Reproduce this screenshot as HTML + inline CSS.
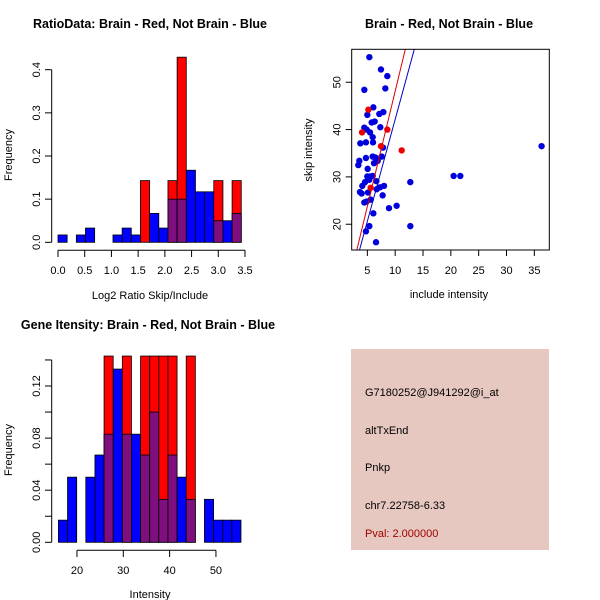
<!DOCTYPE html>
<html><head><meta charset="utf-8"><style>
html,body{margin:0;padding:0;background:#fff}
svg{display:block;font-family:"Liberation Sans",sans-serif}
</style></head><body>
<svg id="s" width="600" height="600" viewBox="0 0 600 600">
<rect width="600" height="600" fill="#fff"/>
</svg>
<script>
// ---- data: ratio histogram ----
const ratioBlue=[0.017,0,0.017,0.033,0,0,0.017,0.033,0.017,0,0.067,0.033,0.1,0.1,0.167,0.117,0.117,0.05,0.05,0.067];
const ratioRed=[0,0,0,0,0,0,0,0,0,0.143,0,0,0.143,0.429,0,0,0,0.143,0,0.143];
const ratioXTicks=[0,0.5,1,1.5,2,2.5,3,3.5];
const ratioXLabels=["0.0","0.5","1.0","1.5","2.0","2.5","3.0","3.5"];
const ratioYTicks=[0,0.1,0.2,0.3,0.4];
const ratioYLabels=["0.0","0.1","0.2","0.3","0.4"];
// ---- data: intensity histogram ----
const intBlue=[0.017,0.05,0,0.05,0.067,0.083,0.133,0.083,0.083,0.067,0.1,0.033,0.067,0.05,0.033,0,0.033,0.017,0.017,0.017];
const intRed=[0,0,0,0,0,0.143,0,0.143,0,0.143,0.143,0.143,0.143,0,0.143,0,0,0,0,0];
const intXTicks=[20,30,40,50];
const intYTicks=[0,0.02,0.04,0.06,0.08,0.10,0.12,0.14];
const intYLabels=["0.00","","0.04","","0.08","","0.12",""];
// ---- data: scatter ----
const blueX=[5.36,7.45,8.59,4.46,8.23,6.08,5.0,7.15,7.87,5.78,6.32,4.46,4.88,5.48,7.33,3.74,4.75,5.96,6.02,7.81,4.75,5.96,6.44,3.56,3.38,6.86,6.20,7.57,5.06,5.0,5.48,5.96,5.36,4.58,6.62,4.10,8.0,7.27,6.68,3.68,3.98,5.12,4.46,4.88,5.6,7.75,8.89,10.26,12.72,12.72,6.08,5.36,4.75,6.56,20.5,21.7,36.3];
const blueY=[55.3,52.7,51.3,48.4,48.7,44.7,43.1,43.3,43.7,41.5,41.7,40.4,40.0,39.4,40.5,37.1,37.3,38.4,37.3,36.2,34.0,34.3,34.1,33.4,32.5,33.4,32.9,34.3,31.7,30.1,30.1,30.2,29.4,28.9,29.1,28.1,28.1,27.8,27.4,26.8,26.5,26.7,24.6,24.8,25.2,26.1,23.4,23.9,28.9,19.6,22.3,19.6,18.5,16.2,30.2,30.2,36.5];
const redX=[5.18,4.05,8.59,7.45,11.17,5.6];
const redY=[44.2,39.4,40.0,36.5,35.6,27.7];
const redLine=[-0.6,4.87];  // intercept, slope
const blueLine=[-0.94,4.31];
const scXTicks=[5,10,15,20,25,30,35];
const scYTicks=[20,30,40,50];

const S=document.getElementById('s'),NS='http://www.w3.org/2000/svg';
function mk(t,a,txt){const e=document.createElementNS(NS,t);for(const k in a)e.setAttribute(k,a[k]);if(txt!==undefined)e.textContent=txt;S.appendChild(e);return e;}
const PUR='#7f0f7f';

function hist(name,blue,red,x0,w,sx,sy){
  for(let i=0;i<blue.length;i++){
    const a=x0+i*w,b=a+w,bl=blue[i],rd=red[i];
    if(rd>0){const r=mk('rect',{x:sx(a),y:sy(rd),width:sx(b)-sx(a),height:sy(0)-sy(rd),fill:'#f00',stroke:'#000','stroke-width':0.8});
      
      }
    if(bl>0){const ov=rd>0;
      const r=mk('rect',{x:sx(a),y:sy(bl),width:sx(b)-sx(a),height:sy(0)-sy(bl),fill:ov?PUR:'#00f',stroke:'#000','stroke-width':0.8});
      
      }
  }
}
function line(x1,y1,x2,y2,c,n){const l=mk('line',{x1,y1,x2,y2,stroke:c||'#000','stroke-width':1});return l;}
function text(x,y,s,o){const a=Object.assign({x,y,'font-size':11,fill:'#000','text-anchor':'middle'},o||{});delete a.n;const t=mk('text',a,s);return t;}
function ytext(x,y,s,fs,n){const t=mk('text',{x,y,'font-size':fs||11,'text-anchor':'middle',transform:`rotate(-90 ${x} ${y})`},s);}

// ---- Panel 1 ----
{const sx=v=>58+v*53.43, sy=v=>242.3-v*431.5;
 hist('ratio',ratioBlue,ratioRed,0,0.1715,sx,sy);
 line(51.7,sy(0),51.7,sy(0.4));
 ratioYTicks.forEach((v,i)=>{line(45,sy(v),51.7,sy(v));ytext(40,sy(v),ratioYLabels[i]);});
 line(sx(0),250.3,sx(3.5),250.3);
 ratioXTicks.forEach((v,i)=>{line(sx(v),250.3,sx(v),257);text(sx(v),274,ratioXLabels[i],{n:'x-tick-label'});});
 text(150,299,'Log2 Ratio Skip/Include',{n:'x-axis-title'});
 ytext(12,155,'Frequency',11,'y-axis-title');
 text(150,28,'RatioData: Brain - Red, Not Brain - Blue',{'font-weight':'bold','font-size':12.5,n:'chart-title'});
}
// ---- Panel 2 ----
{const sx=v=>339.5+v*5.567, sy=v=>318.9-v*4.733;
 const X0=351.7,X1=549.3,Y0=49.3,Y1=250;
 const cp=mk('clipPath',{id:'cp'});const cr=document.createElementNS(NS,'rect');cr.setAttribute('x',X0);cr.setAttribute('y',Y0);cr.setAttribute('width',X1-X0);cr.setAttribute('height',Y1-Y0);cp.appendChild(cr);
 const g=mk('g',{'clip-path':'url(#cp)'});
 
 function ln(p,c,n){const xa=2,xb=20;const l=document.createElementNS(NS,'line');
  l.setAttribute('x1',sx(xa));l.setAttribute('y1',sy(p[0]+p[1]*xa));l.setAttribute('x2',sx(xb));l.setAttribute('y2',sy(p[0]+p[1]*xb));l.setAttribute('stroke',c);l.setAttribute('stroke-width',1);
  
  g.appendChild(l);}
 blueX.forEach((x,i)=>{const c=document.createElementNS(NS,'circle');c.setAttribute('cx',sx(x));c.setAttribute('cy',sy(blueY[i]));c.setAttribute('r',3.2);c.setAttribute('fill','#00d');
  
  g.appendChild(c);});
 redX.forEach((x,i)=>{const c=document.createElementNS(NS,'circle');c.setAttribute('cx',sx(x));c.setAttribute('cy',sy(redY[i]));c.setAttribute('r',3.2);c.setAttribute('fill','#e00');
  
  g.appendChild(c);});
 ln(redLine,'#d00','red-fit-line');ln(blueLine,'#00c','blue-fit-line');
 const b=mk('rect',{x:X0,y:Y0,width:X1-X0,height:Y1-Y0,fill:'none',stroke:'#000','stroke-width':1});
 scXTicks.forEach(v=>{line(sx(v),Y1,sx(v),Y1+6);text(sx(v),274,String(v),{n:'x-tick-label'});});
 scYTicks.forEach(v=>{line(X0-6,sy(v),X0,sy(v));ytext(X0-11,sy(v),String(v));});
 text(449,298,'include intensity',{n:'x-axis-title'});
 ytext(312,150,'skip intensity',11,'y-axis-title');
 text(449,28,'Brain - Red, Not Brain - Blue',{'font-weight':'bold','font-size':12.5,n:'chart-title'});
}
// ---- Panel 3 ----
{const sx=v=>-15.7+v*4.633, sy=v=>542.3-v*1302.5;
 hist('intensity',intBlue,intRed,16,1.97,sx,sy);
 line(51.7,sy(0),51.7,sy(0.14));
 intYTicks.forEach((v,i)=>{line(45,sy(v),51.7,sy(v));if(intYLabels[i])ytext(40,sy(v),intYLabels[i]);});
 line(sx(20),550.3,sx(50),550.3);
 intXTicks.forEach(v=>{line(sx(v),550.3,sx(v),557);text(sx(v),574,String(v),{n:'x-tick-label'});});
 text(150,598,'Intensity',{n:'x-axis-title'});
 ytext(12,450,'Frequency',11,'y-axis-title');
 text(148,329,'Gene Itensity: Brain - Red, Not Brain - Blue',{'font-weight':'bold','font-size':12.5,n:'chart-title'});
}
// ---- Panel 4 ----
{const r=mk('rect',{x:351,y:349,width:198,height:201,fill:'#e6c8c0'});
 text(365,396,'G7180252@J941292@i_at',{'text-anchor':'start',n:'probe-id'});
 text(365,434,'altTxEnd',{'text-anchor':'start',n:'event-type'});
 text(365,471,'Pnkp',{'text-anchor':'start',n:'gene-name'});
 text(365,509,'chr7.22758-6.33',{'text-anchor':'start',n:'location'});
 text(365,537,'Pval: 2.000000',{'text-anchor':'start',fill:'#a00000',n:'p-value'});
}
</script>
</body></html>
